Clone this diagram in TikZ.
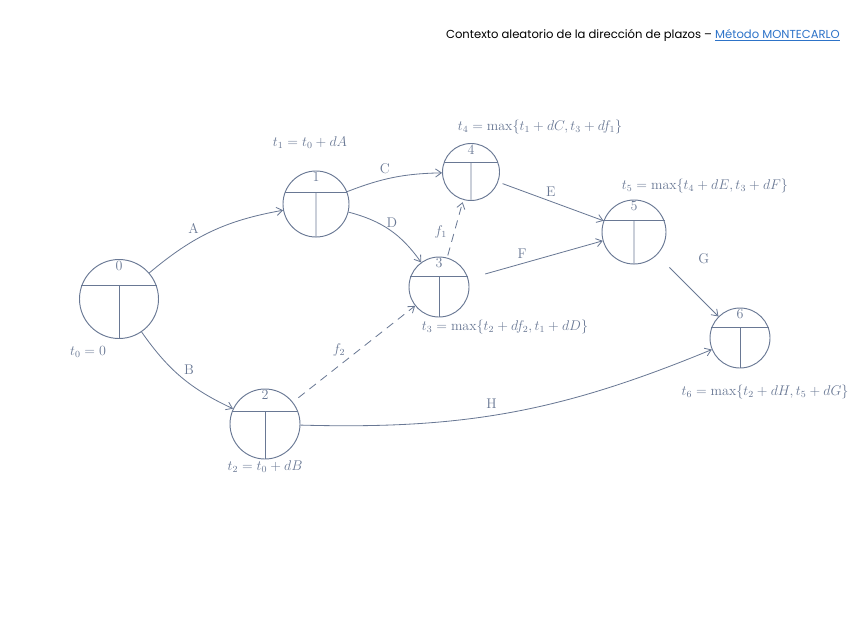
\documentclass[tikz,border=0pt]{standalone}
\usepackage{fontspec}
\newfontfamily\headfont{Poppins}
\usetikzlibrary{positioning, arrows.meta, calc}
\definecolor{cInk} {RGB}{105,120,148}
\definecolor{cLink}{RGB}{45,115,200}
\tikzset{
  %% event circle: #1 = diameter, #2 = number
  EV/.style 2 args={circle, draw=cInk, line width=0.8pt, minimum size=#1,
            inner sep=0pt, label={[NUM]90:#2}},
  %% event number in the upper part of the circle
  NUM/.style={anchor=north, inner sep=1.5pt, font=\large, text=cInk},
  %% activity arrow
  A/.style ={-{Straight Barb[length=5pt,width=7pt]}, line width=0.7pt, color=cInk},
  %% dummy activity
  DA/.style={-{Straight Barb[length=5pt,width=7pt]}, line width=0.7pt, color=cInk,
             dash pattern=on 7pt off 5pt},
  %% activity letter
  LBL/.style={font=\large, text=cInk, inner sep=2pt},
  %% time formula
  TM/.style={font=\large, text=cInk, inner sep=0pt},
  %% header line
  HEAD/.style={font=\headfont\fontsize{9.9}{11}\selectfont, inner sep=0pt},
}
%% chord and stem inside an event circle
\newcommand\evlines[1]{%
  \draw[cInk, line width=0.8pt] (#1.160) -- (#1.20);
  \draw[cInk, line width=0.8pt] ($(#1.160)!0.5!(#1.20)$) -- (#1.270);}

\begin{document}
\begin{tikzpicture}[x=0.03cm, y=-0.03cm]
\useasboundingbox (0,0) rectangle (848,636);

%% ════════════════════════════════════════════════
%%  HEADER
%% ════════════════════════════════════════════════
\node[HEAD, anchor=east] (title) at (840,35)
  {Contexto aleatorio de la dirección de plazos – \textcolor{cLink}{\underline{Método MONTECARLO}}};

%% ════════════════════════════════════════════════
%%  EVENTS  (absolute coordinates)
%% ════════════════════════════════════════════════
\node[EV={2.37cm}{0}] (e0) at (119,299) {};
\node[EV={1.98cm}{1}] (e1) at (316,204) {};
\node[EV={2.10cm}{2}] (e2) at (265,424) {};
\node[EV={1.80cm}{3}] (e3) at (439,287) {};
\node[EV={1.71cm}{4}] (e4) at (471,172) {};
\node[EV={1.92cm}{5}] (e5) at (634,232) {};
\node[EV={1.80cm}{6}] (e6) at (740,338) {};

\foreach \n in {e0,e1,e2,e3,e4,e5,e6} {\evlines{\n}}

%% ════════════════════════════════════════════════
%%  ACTIVITIES
%% ════════════════════════════════════════════════
\draw[A] (e0) to[bend left=15]
  node[LBL, pos=0.42, above left] {A} (e1);
\draw[A] (e0) to[bend right=15]
  node[LBL, pos=0.5, above right] {B} (e2);
\draw[A] (e1) to[bend left=10]
  node[LBL, pos=0.4, above=2pt] {C} (e4);
\draw[A] (e1) to[bend left=20]
  node[LBL, pos=0.45, above right, inner sep=0pt] {D} (e3);
\draw[A, shorten <=4pt] (e4) --
  node[LBL, pos=0.5, above=2pt] {E} (e5);
\draw[A, shorten <=15pt] (e3) --
  node[LBL, pos=0.4, above=2pt] {F} (e5);
\draw[A, shorten <=15pt] (e5) --
  node[LBL, pos=0, anchor=west, xshift=33pt, yshift=-3pt] {G} (e6);
\draw[A] (e2) to[bend right=12]
  node[LBL, pos=0.45, above=4pt] {H} (e6);

%% dummies
\draw[DA, shorten <=2pt, shorten >=2pt] (e3) --
  node[LBL, pos=0.45, left=4pt] {$f_1$} (e4);
\draw[DA, shorten <=6pt] (e2) --
  node[LBL, pos=0.45, above left] {$f_2$} (e3);

%% ════════════════════════════════════════════════
%%  EVENT TIMES
%% ════════════════════════════════════════════════
\node[TM] (t0) at (88,352)  {$t_0 = 0$};
\node[TM] (t1) at (310,143) {$t_1 = t_0 + dA$};
\node[TM] (t2) at (265,467) {$t_2 = t_0 + dB$};
\node[TM] (t3) at (505,327) {$t_3 = \max\{t_2 + df_2, t_1 + dD\}$};
\node[TM] (t4) at (540,127) {$t_4 = \max\{t_1 + dC, t_3 + df_1\}$};
\node[TM] (t5) at (705,186) {$t_5 = \max\{t_4 + dE, t_3 + dF\}$};
\node[TM] (t6) at (765,392) {$t_6 = \max\{t_2 + dH, t_5 + dG\}$};

\end{tikzpicture}
\end{document}
